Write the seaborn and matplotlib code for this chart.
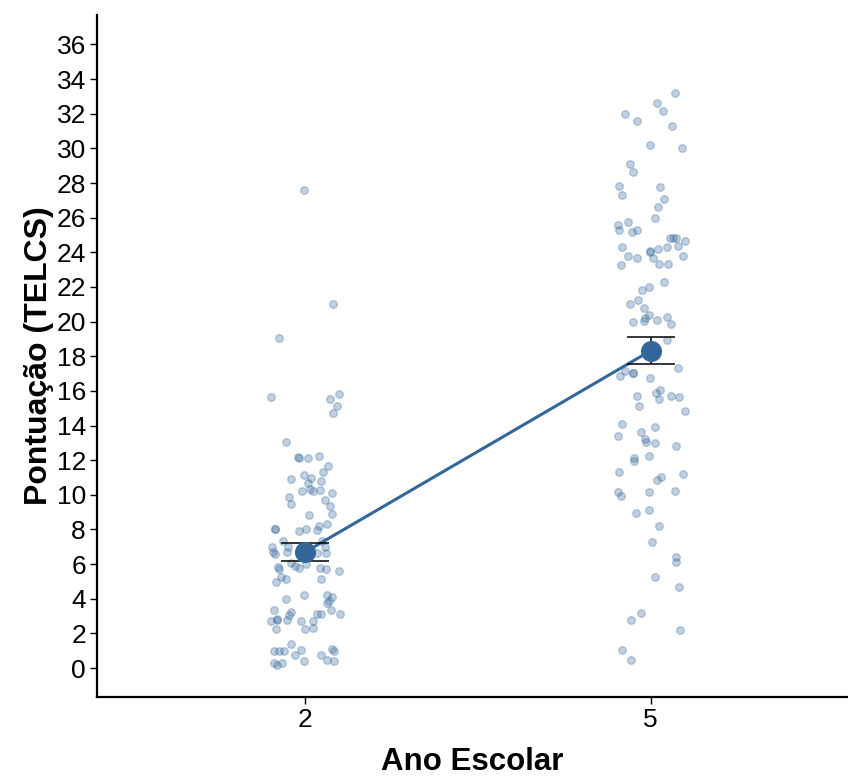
import matplotlib
matplotlib.use("Agg")
import matplotlib.pyplot as plt
import seaborn as sns
import pandas as pd
import numpy as np

# ---- data ----
categories = ["2", "5"]

# grade 2: (horizontal jitter in category units, score)
g2_jitter = [-0.003, 0.083, -0.074, -0.098, 0.072, 0.099, 0.094, 0.083,
             -0.055, -0.019, -0.016, 0.010, 0.040, 0.068, 0.052, -0.039, -0.003, 0.017, 0.048, 0.010,
             -0.008, 0.014, 0.025, 0.044, 0.079, -0.046, -0.039, 0.058, 0.074, 0.078, 0.013,
             -0.085, -0.016, 0.005, 0.036, 0.040, 0.064, -0.062, -0.095, -0.049, 0.051, 0.060,
             -0.092, -0.085, -0.050, 0.035, 0.061, -0.077, -0.075, -0.040, -0.027, -0.017, 0.005,
             0.044, 0.061, 0.099, -0.069, -0.082, -0.055, 0.048, -0.054, -0.003, 0.064, 0.079,
             0.069, 0.065, -0.089, 0.075, -0.039, -0.044, 0.036, 0.048, 0.103, -0.098, -0.081,
             -0.079, -0.050, -0.012, 0.024, -0.082, 0.000, 0.025, -0.039, -0.090, -0.075, -0.060,
             -0.012, -0.027, 0.048, 0.080, 0.084, 0.064, 0.084, -0.090, -0.079, -0.065, -0.003,
             -0.085]
g2_score = [27.62, 21.04, 19.08, 15.64, 15.56, 15.81, 15.10, 14.70,
            13.04, 12.19, 12.12, 12.10, 12.27, 11.64, 11.33, 10.92, 11.12, 10.95, 10.79, 10.66,
            10.23, 10.35, 10.23, 10.29, 10.08, 9.85, 9.45, 9.68, 9.37, 8.90, 8.83,
            8.00, 7.91, 8.04, 7.96, 8.19, 8.29, 7.35, 6.98, 7.00, 7.35, 7.00,
            6.71, 6.58, 6.71, 6.67, 6.67, 5.85, 5.70, 6.04, 5.89, 5.75, 5.98,
            5.77, 5.70, 5.60, 5.23, 4.98, 5.14, 5.14, 3.96, 4.19, 4.19, 4.11,
            3.88, 3.73, 3.33, 3.33, 3.21, 3.04, 3.10, 3.10, 3.12, 2.71, 2.85,
            2.77, 2.77, 2.71, 2.71, 2.23, 2.23, 2.33, 1.37, 0.96, 1.00, 1.00,
            1.02, 0.73, 0.73, 1.08, 0.98, 0.44, 0.39, 0.31, 0.17, 0.27, 0.39,
            8.05]

# grade 5: (horizontal jitter in category units, score)
g5_jitter = [0.070, 0.017, 0.035, -0.075, -0.040, 0.061, -0.001, 0.090,
             -0.060, -0.051, -0.091, 0.027, -0.083, 0.039, 0.020, 0.012, -0.094, -0.067,
             -0.093, -0.053, -0.040, 0.057, 0.063, 0.074, 0.098, -0.083, -0.003, 0.020,
             0.047, 0.078,
             -0.067, -0.040, -0.001, 0.007, 0.093, -0.087, 0.023, 0.050, 0.038, -0.024,
             -0.004, -0.036, -0.060, -0.020, -0.004, -0.016, -0.020, 0.017, 0.047, -0.051,
             0.059, 0.047, 0.078, -0.075, -0.052, -0.052, -0.090, -0.003, 0.027, 0.015,
             0.025, 0.058, 0.082, -0.039, -0.033, 0.098,
             -0.083, 0.012, -0.094, -0.027, -0.017, -0.015, 0.012, 0.074, -0.048, -0.047,
             -0.005, -0.091, 0.031, 0.019, 0.094, -0.094, -0.085, -0.005, 0.070, -0.044,
             -0.005, 0.023, 0.004, 0.074,
             0.074, 0.012, 0.081, -0.028, -0.056, 0.086, -0.083, -0.056]
g5_score = [33.18, 32.62, 32.16, 32.01, 31.60, 31.31, 30.22, 30.05,
            29.12, 28.64, 27.85, 27.77, 27.29, 27.08, 26.60, 25.98, 25.60, 25.74,
            25.26, 25.18, 25.30, 24.85, 24.81, 24.81, 24.64, 24.28, 24.08, 24.20,
            24.28, 24.35,
            23.79, 23.70, 23.99, 23.66, 23.79, 23.24, 23.31, 23.31, 22.29, 21.81,
            21.98, 21.27, 21.04, 20.81, 20.37, 20.18, 20.02, 20.10, 20.25, 19.95,
            19.87, 18.93, 17.35, 17.14, 17.04, 17.04, 16.87, 16.73, 16.04, 15.89,
            15.56, 15.68, 15.64, 15.71, 15.10, 14.83,
            14.08, 13.92, 13.37, 13.60, 13.21, 13.06, 12.97, 12.81, 12.14, 11.96,
            12.27, 11.33, 11.02, 10.85, 11.18, 10.17, 9.91, 10.16, 10.23, 8.98,
            9.13, 8.19, 7.25, 6.39,
            6.13, 5.23, 4.66, 3.19, 2.79, 2.18, 1.02, 0.44]

# summary (mean +/- standard error) as drawn in the reference
means = [6.68, 18.32]
errs = [0.52, 0.77]

y_ticks = list(range(0, 37, 2))

# ---- build tables ----
pts = pd.DataFrame({
    "pos": [0 + j for j in g2_jitter] + [1 + j for j in g5_jitter],
    "score": g2_score + g5_score,
})
summ = pd.DataFrame({"pos": [0, 1], "mean": means, "err": errs})

color = "#336699"

fig = plt.figure(figsize=(8.48, 7.8), dpi=100)
sns.set_style("white")
plt.rcParams["font.family"] = ["Liberation Sans", "DejaVu Sans"]
plt.rcParams["text.color"] = "black"
plt.rcParams["axes.labelcolor"] = "black"
ax = fig.add_axes([0.1144, 0.1064, 0.8856, 0.8744])

sns.scatterplot(data=pts, x="pos", y="score", ax=ax, s=30, color=color,
                alpha=0.3, edgecolor=color, linewidth=1.0, legend=False, zorder=2)
sns.lineplot(data=summ, x="pos", y="mean", ax=ax, color=color, linewidth=2.2,
             zorder=3, legend=False)
ax.errorbar(summ["pos"], summ["mean"], yerr=summ["err"], fmt="none",
            ecolor="black", elinewidth=1.1, capsize=17, capthick=1.1, zorder=4)
sns.scatterplot(data=summ, x="pos", y="mean", ax=ax, s=230, color=color,
                edgecolor=color, linewidth=0, legend=False, zorder=5)

ax.set_xlim(-0.6, 1.57)
ax.set_ylim(-1.67, 37.7)
ax.set_xticks([0, 1])
ax.set_xticklabels(categories)
ax.set_yticks(y_ticks)
ax.set_yticklabels([str(t) for t in y_ticks])

for s in ["top", "right"]:
    ax.spines[s].set_visible(False)
for s in ["left", "bottom"]:
    ax.spines[s].set_color("black")
    ax.spines[s].set_linewidth(1.6)

ax.tick_params(axis="both", which="major", direction="out", length=5, width=1,
               color="black", labelsize=19, labelcolor="black", pad=3, left=True, bottom=True)
ax.set_xlabel("Ano Escolar", fontsize=22.5, fontweight="bold", labelpad=11, color="black")
ax.set_ylabel("Pontuação (TELCS)", fontsize=23, fontweight="bold", labelpad=2, color="black")
ax.grid(False)

fig.savefig("out.png", dpi=100)
